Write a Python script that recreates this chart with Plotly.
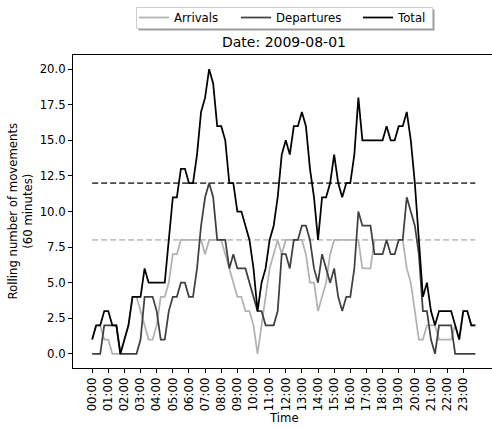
import pandas as pd
import plotly.graph_objects as go

# 15-minute rolling counts, 2009-08-01 00:00 .. 23:45
arrivals = [1, 2, 2, 1, 1, 0, 0, 0, 1, 2, 4, 4, 3, 2, 1, 1,
            2, 4, 4, 5, 7, 7, 8, 8, 8, 8, 8, 8, 7, 8, 8, 8,
            8, 7, 6, 5, 4, 4, 3, 3, 2, 0, 2, 4, 6, 7, 8, 7,
            8, 8, 8, 8, 8, 7, 5, 5, 3, 4, 5, 7, 8, 8, 8, 8,
            8, 8, 8, 6, 6, 6, 8, 8, 8, 8, 8, 8, 8, 8, 6, 5,
            3, 1, 1, 2, 2, 2, 1, 1, 1, 1, 2, 1, 3, 3, 2, 2]
departures = [0, 0, 0, 2, 2, 2, 2, 0, 0, 0, 0, 0, 1, 4, 4, 4,
              3, 1, 1, 3, 4, 4, 5, 5, 4, 4, 6, 9, 11, 12, 11, 8,
              8, 8, 6, 7, 6, 6, 6, 5, 4, 3, 3, 2, 2, 2, 3, 7,
              7, 6, 8, 8, 9, 9, 8, 6, 5, 7, 6, 5, 6, 4, 3, 4,
              4, 6, 10, 9, 9, 9, 7, 7, 7, 8, 7, 7, 8, 8, 11, 10,
              9, 7, 3, 3, 1, 0, 2, 2, 2, 2, 0, 0, 0, 0, 0, 0]
total = [1, 2, 2, 3, 3, 2, 2, 0, 1, 2, 4, 4, 4, 6, 5, 5,
         5, 5, 5, 8, 11, 11, 13, 13, 12, 12, 14, 17, 18, 20, 19, 16,
         16, 15, 12, 12, 10, 10, 9, 8, 6, 3, 5, 6, 8, 9, 11, 14,
         15, 14, 16, 16, 17, 16, 13, 11, 8, 11, 11, 12, 14, 12, 11, 12,
         12, 14, 18, 15, 15, 15, 15, 15, 15, 16, 15, 15, 16, 16, 17, 15,
         12, 8, 4, 5, 3, 2, 3, 3, 3, 3, 2, 1, 3, 3, 2, 2]
arrival_capacity = 8
departure_capacity = 12
y_ticks = [0.0, 2.5, 5.0, 7.5, 10.0, 12.5, 15.0, 17.5, 20.0]
series_names = ["Arrivals", "Departures", "Total"]

times = pd.date_range("2009-08-01 00:00", periods=len(total), freq="15min")
hour_ticks = pd.date_range("2009-08-01 00:00", periods=24, freq="1h")

# layout geometry (pixels)
W, H = 492, 428
L, T, B = 73, 55, 60
PW, PH = W - L, H - T - B


def px_x(x):
    return (x - L) / PW


def px_y(y):
    return (H - B - y) / PH


# matplotlib-like 5% margins; the right edge of the axes box falls just past the image edge
pad = (times[-1] - times[0]) * 0.05
full_span = (times[-1] - times[0]) + 2 * pad
x_left = times[0] - pad
x_right = x_left + full_span * (PW / 421.5)

C_ARR = "#b2b2b2"
C_DEP = "#404040"
C_TOT = "#000000"
FONT = "DejaVu Sans"
FS = 11.7
LW = 1.75

fig = go.Figure()
fig.add_trace(go.Scatter(x=[times[0], times[-1]], y=[arrival_capacity] * 2, mode="lines",
                         line=dict(color="#c2c2c2", width=LW, dash="6px,3px"),
                         showlegend=False, hoverinfo="skip"))
fig.add_trace(go.Scatter(x=[times[0], times[-1]], y=[departure_capacity] * 2, mode="lines",
                         line=dict(color="#4a4a4a", width=LW, dash="6px,3px"),
                         showlegend=False, hoverinfo="skip"))
for name, vals, col, leg in zip(series_names, [arrivals, departures, total],
                                [C_ARR, C_DEP, C_TOT], ["legend", "legend2", "legend3"]):
    fig.add_trace(go.Scatter(x=times, y=vals, mode="lines", name=name, legend=leg,
                             line=dict(color=col, width=LW)))

axis_common = dict(showline=True, linecolor="black", linewidth=1,
                   ticks="outside", ticklen=4, tickcolor="black", tickwidth=1,
                   showgrid=False, zeroline=False,
                   tickfont=dict(family=FONT, size=FS, color="black"))

fig.update_xaxes(range=[x_left, x_right], mirror=True,
                 tickvals=hour_ticks, ticktext=[t.strftime("%H:%M") for t in hour_ticks],
                 tickangle=-90, **axis_common)
fig.update_yaxes(range=[-1, 21], mirror=False, tickvals=y_ticks,
                 ticktext=[f"{v:.1f}" for v in y_ticks], **axis_common)

center_x = px_x(283.75)

fig.add_annotation(text="Rolling number of movements<br>(60 minutes)", textangle=-90,
                   xref="paper", yref="paper", x=px_x(19.5), y=px_y(211),
                   xanchor="center", yanchor="middle",
                   showarrow=False, font=dict(family=FONT, size=FS, color="black"))
fig.add_annotation(text="Time", xref="paper", yref="paper", x=center_x, y=px_y(418),
                   xanchor="center", yanchor="middle", showarrow=False,
                   font=dict(family=FONT, size=FS, color="black"))
fig.add_annotation(text="Date: 2009-08-01", xref="paper", yref="paper", x=center_x,
                   y=px_y(42), xanchor="center", yanchor="middle", showarrow=False,
                   font=dict(family=FONT, size=14, color="black"))

# legend frame with drop shadow
fig.add_shape(type="rect", xref="paper", yref="paper",
              x0=px_x(138.5), x1=px_x(434.5), y0=px_y(30.5), y1=px_y(9.5),
              fillcolor="#9d9d9d", line=dict(width=0), layer="below")
fig.add_shape(type="rect", xref="paper", yref="paper",
              x0=px_x(136.5), x1=px_x(432.5), y0=px_y(28.5), y1=px_y(7.5),
              fillcolor="white", line=dict(color="#cccccc", width=1), layer="below")

leg_common = dict(orientation="h", xanchor="left", yanchor="middle", y=px_y(17.5),
                  bgcolor="rgba(0,0,0,0)", borderwidth=0, itemwidth=30,
                  font=dict(family=FONT, size=FS, color="black"))

fig.update_layout(
    width=W, height=H,
    margin=dict(l=L, r=0, t=T, b=B, autoexpand=False),
    paper_bgcolor="white", plot_bgcolor="rgba(0,0,0,0)",
    legend=dict(x=px_x(134), **leg_common),
    legend2=dict(x=px_x(236), **leg_common),
    legend3=dict(x=px_x(358), **leg_common),
    showlegend=True,
    hovermode=False,
)

fig.write_html("out.html", config={"displayModeBar": False},
               post_script="document.body.style.margin='0';document.body.style.overflow='hidden';")
